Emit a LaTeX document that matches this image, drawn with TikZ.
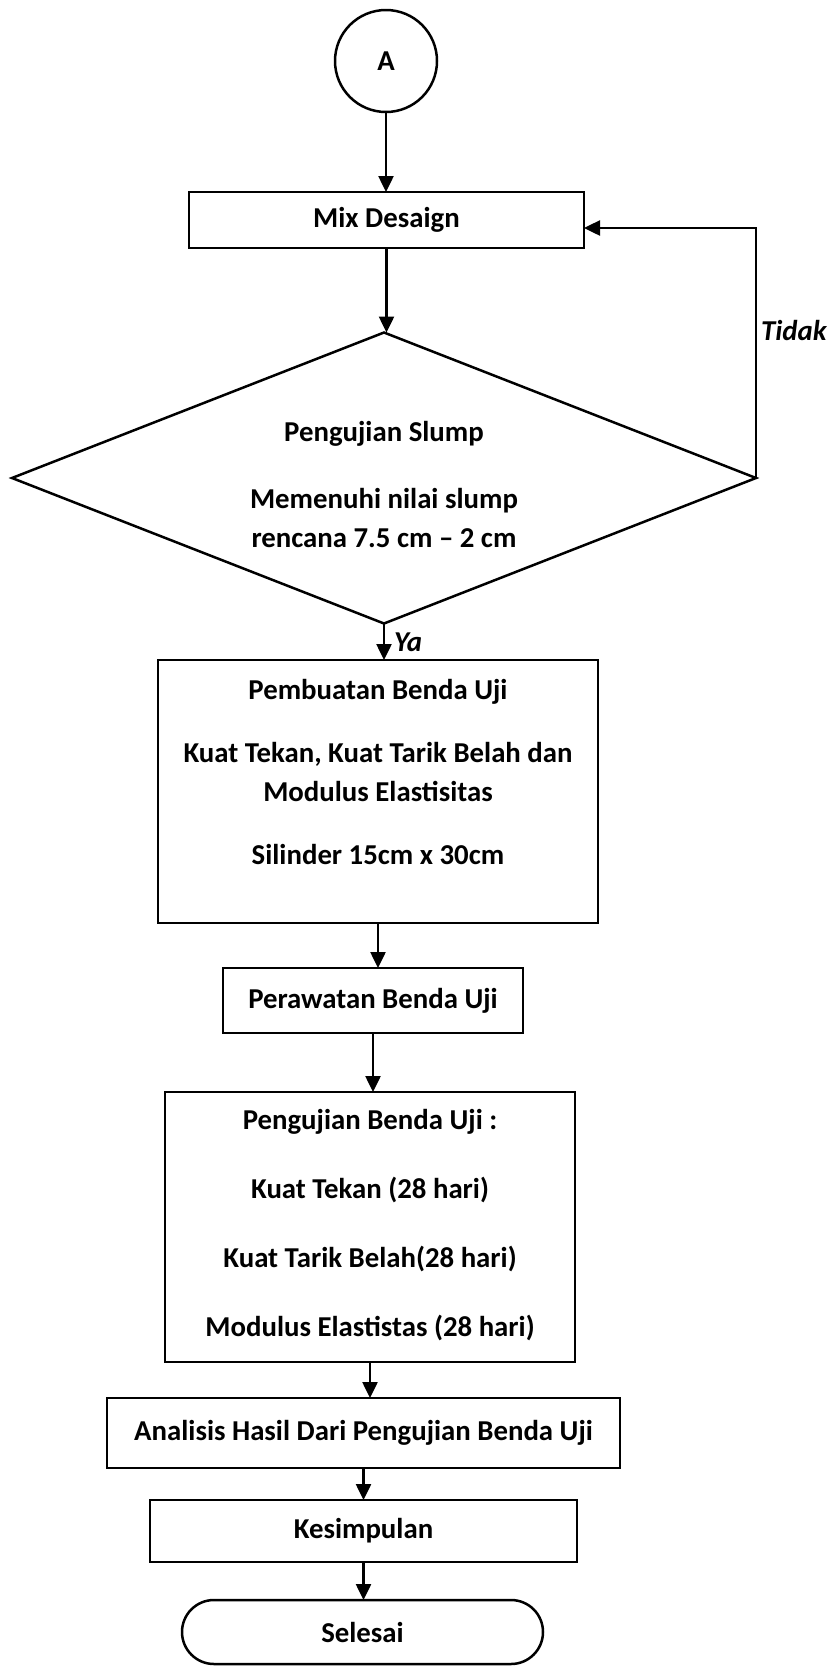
\documentclass[tikz,border=0pt]{standalone}
\usepackage{fontspec}
\setmainfont{Carlito}
\usetikzlibrary{shapes.geometric,shapes.misc,arrows.meta}
\begin{document}
\begin{tikzpicture}[x=0.5pt,y=-0.5pt,
  every node/.style={font=\fontsize{14.4pt}{19.5pt}\selectfont\bfseries, line width=1.25pt, inner sep=0pt, outer sep=0pt},
  box/.style={draw, rectangle, align=center},
  decision/.style={draw, diamond, aspect=2.56, align=center},
  term/.style={draw, rounded rectangle},
  conn/.style={circle, draw},
  arr/.style={line width=1.25pt, -{Triangle[length=8pt,width=7.5pt]}},
  lab/.style={font=\fontsize{14.4pt}{19.5pt}\selectfont\bfseries\itshape}
]
\path[use as bounding box] (0,0) rectangle (836,1666);

\node[conn, minimum size=51pt] (a) at (386,61) {A};
\node[box, minimum width=197.5pt, minimum height=28pt] (mix) at (386.5,220) {Mix Desaign};
\node[decision, minimum width=372pt, minimum height=145.5pt, text height=75pt, text depth=6pt] (dm) at (384,478)
  {Pengujian Slump\\[14pt] Memenuhi nilai slump\\ rencana 7.5 cm – 2 cm};
\node[box, minimum width=220pt, text height=102pt, text depth=29.5pt] (pb) at (378,791.5)
  {Pembuatan Benda Uji\\[12pt] Kuat Tekan, Kuat Tarik Belah dan\\ Modulus Elastisitas\\[12pt] Silinder 15cm x 30cm};
\node[box, minimum width=150pt, minimum height=32.5pt] (pr) at (373,1000.5) {Perawatan Benda Uji};
\node[box, minimum width=205pt, text height=122pt, text depth=13pt] (pj) at (370,1227)
  {Pengujian Benda Uji :\\[15pt] Kuat Tekan (28 hari)\\[15pt] Kuat Tarik Belah(28 hari)\\[15pt] Modulus Elastistas (28 hari)};
\node[box, minimum width=256.5pt, minimum height=35pt] (an) at (363.5,1433) {Analisis Hasil Dari Pengujian Benda Uji};
\node[box, minimum width=213.5pt, minimum height=31pt] (ks) at (363.5,1531) {Kesimpulan};
\node[term, minimum width=180.5pt, minimum height=32pt] (sl) at (362.5,1632) {Selesai};

\node[lab, anchor=west] (tidak) at (761,330) {Tidak};
\node[lab, anchor=west] (ya) at (394,642) {Ya};

\coordinate (tin) at ([yshift=-4pt]mix.east);

\draw[arr] (a.south) -- (a.south |- mix.north);
\draw[arr] (mix.south) -- (mix.south |- dm.north);
\draw[arr] (dm.east) |- (tin);
\draw[arr] (dm.south) -- (dm.south |- pb.north);
\draw[arr] (pb.south) -- (pb.south |- pr.north);
\draw[arr] (pr.south) -- (pr.south |- pj.north);
\draw[arr] (pj.south) -- (pj.south |- an.north);
\draw[arr] (an.south) -- (an.south |- ks.north);
\draw[arr] (ks.south) -- (ks.south |- sl.north);
\end{tikzpicture}
\end{document}
